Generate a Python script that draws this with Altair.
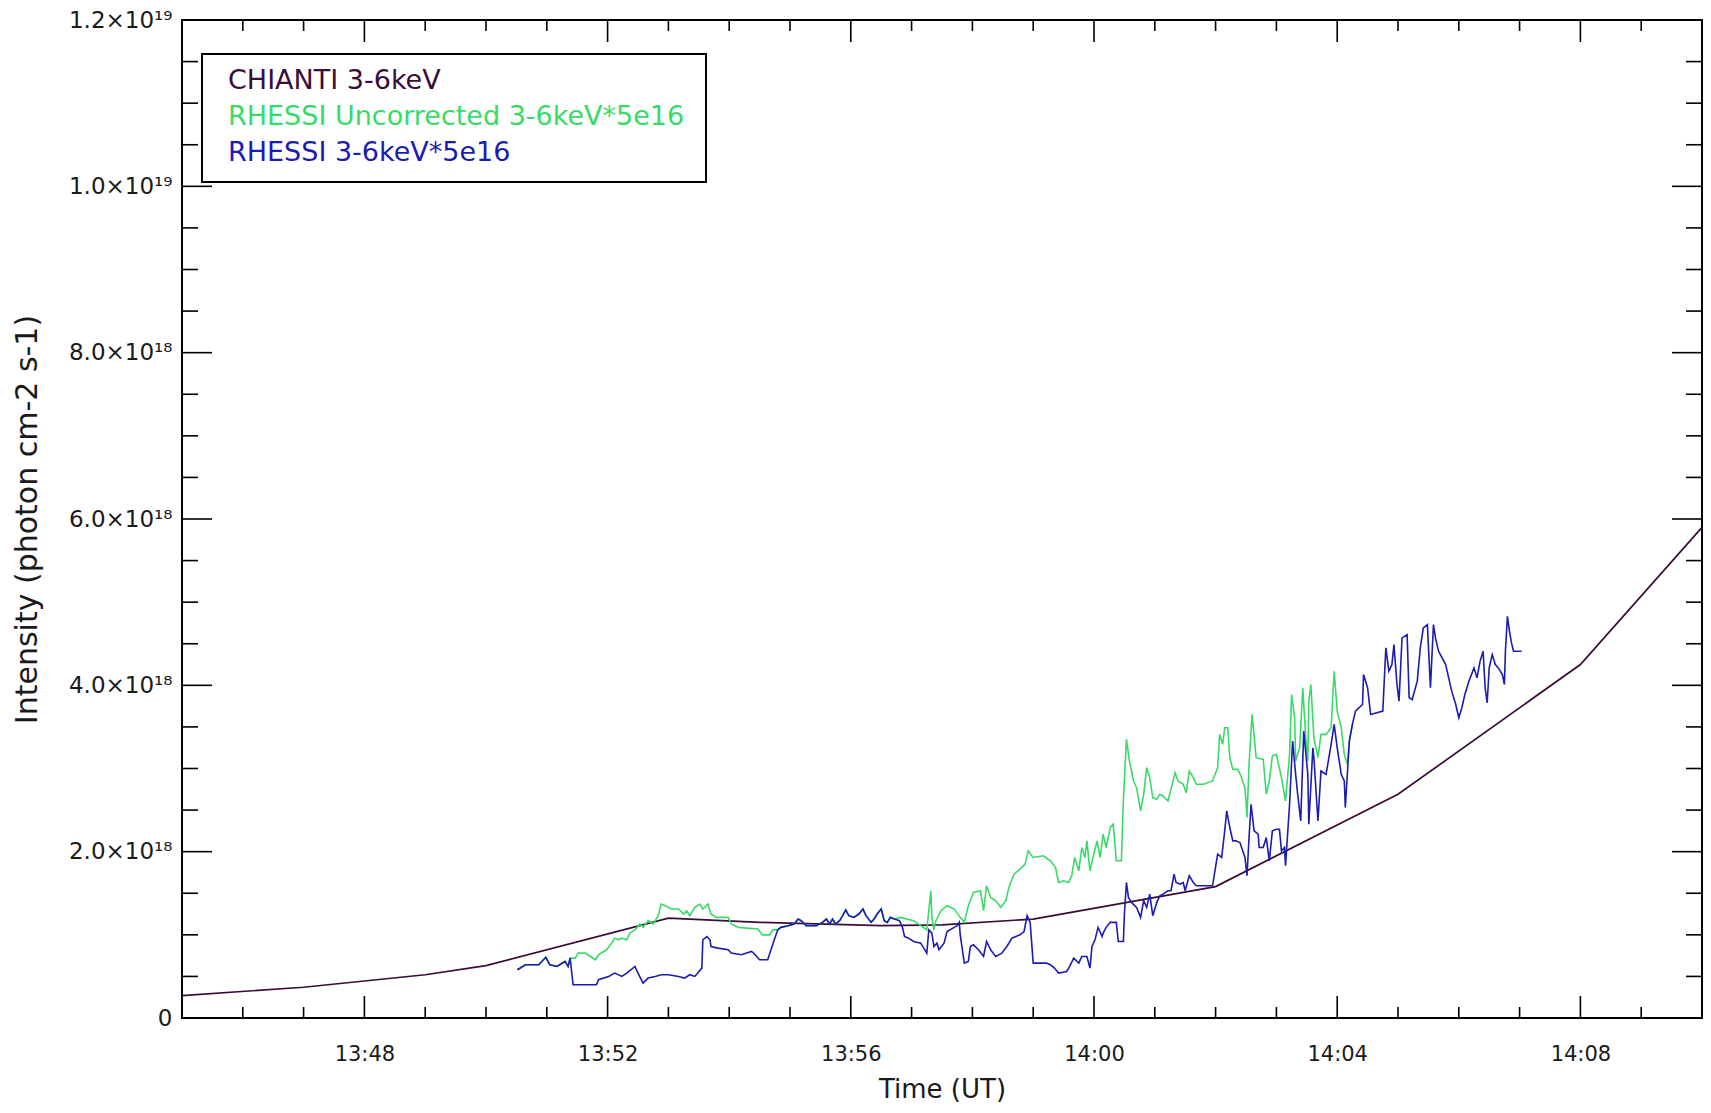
import altair as alt
import pandas as pd

DAY = "2000-01-01 "

# ---------------- data (intensity in units of 1e18 photon cm-2 s-1) ----------------
chianti_time = ["13:45:00", "13:47:00", "13:49:00", "13:50:00", "13:53:00", "13:54:30",
                "13:56:30", "13:57:30", "13:59:00", "14:02:00", "14:05:00", "14:08:00", "14:10:00"]
chianti_value = [0.27, 0.37, 0.52, 0.63, 1.20, 1.15, 1.11, 1.12, 1.19, 1.58, 2.69, 4.25, 5.90]

start_time = ["13:50:31", "13:50:39", "13:50:52", "13:50:59", "13:51:03", "13:51:10",
              "13:51:18", "13:51:21", "13:51:23"]
start_value = [0.58, 0.64, 0.64, 0.73, 0.64, 0.62, 0.68, 0.62, 0.72]

mid_time = ["13:54:48", "13:54:51", "13:54:58", "13:55:04", "13:55:08", "13:55:11", "13:55:16",
            "13:55:26", "13:55:32", "13:55:36", "13:55:39", "13:55:42", "13:55:45", "13:55:49",
            "13:55:52", "13:55:55", "13:55:58", "13:56:03", "13:56:08", "13:56:12", "13:56:15",
            "13:56:20", "13:56:23", "13:56:26", "13:56:30", "13:56:33", "13:56:36", "13:56:39",
            "13:56:43"]
mid_value = [1.06, 1.09, 1.11, 1.13, 1.19, 1.17, 1.11, 1.11, 1.15, 1.19, 1.13, 1.19, 1.13, 1.17,
             1.23, 1.30, 1.23, 1.21, 1.25, 1.31, 1.23, 1.15, 1.19, 1.25, 1.31, 1.17, 1.15, 1.21,
             1.19]

unc_time = start_time + [
    "13:51:28", "13:51:31", "13:51:38", "13:51:43", "13:51:48", "13:51:51", "13:51:59",
    "13:52:04", "13:52:07", "13:52:11", "13:52:14", "13:52:19", "13:52:22", "13:52:27",
    "13:52:32", "13:52:35", "13:52:40", "13:52:45", "13:52:50", "13:52:53", "13:52:57",
    "13:53:03", "13:53:10", "13:53:15", "13:53:18", "13:53:21", "13:53:26", "13:53:31",
    "13:53:34", "13:53:39", "13:53:42", "13:53:47", "13:53:59", "13:54:02", "13:54:09",
    "13:54:28", "13:54:33", "13:54:40", "13:54:43"] + mid_time + [
    "13:56:49", "13:57:02", "13:57:09", "13:57:15", "13:57:19", "13:57:20", "13:57:22",
    "13:57:24", "13:57:29", "13:57:35", "13:57:42", "13:57:48", "13:57:52", "13:57:56",
    "13:58:01", "13:58:08", "13:58:11", "13:58:14", "13:58:18", "13:58:23", "13:58:28",
    "13:58:33", "13:58:36", "13:58:41", "13:58:47", "13:58:52", "13:58:55", "13:59:00",
    "13:59:10", "13:59:17", "13:59:22", "13:59:25", "13:59:30", "13:59:35", "13:59:38",
    "13:59:41", "13:59:45", "13:59:48", "13:59:51", "13:59:53", "13:59:56", "13:59:59",
    "14:00:03", "14:00:06", "14:00:09", "14:00:12", "14:00:16", "14:00:19", "14:00:22",
    "14:00:27", "14:00:29", "14:00:32", "14:00:35", "14:00:39", "14:00:42", "14:00:46",
    "14:00:49", "14:00:52", "14:00:55", "14:00:58", "14:01:02", "14:01:05", "14:01:08",
    "14:01:13", "14:01:16", "14:01:20", "14:01:23", "14:01:28", "14:01:31", "14:01:34",
    "14:01:38", "14:01:41", "14:01:48", "14:01:57", "14:02:02", "14:02:04", "14:02:07",
    "14:02:09", "14:02:12", "14:02:14", "14:02:17", "14:02:22", "14:02:25", "14:02:29",
    "14:02:31", "14:02:33", "14:02:36", "14:02:40", "14:02:47", "14:02:50", "14:02:53",
    "14:02:56", "14:03:00", "14:03:05", "14:03:09", "14:03:13", "14:03:15", "14:03:18",
    "14:03:19", "14:03:23", "14:03:26", "14:03:29", "14:03:31", "14:03:32", "14:03:34",
    "14:03:37", "14:03:41", "14:03:44", "14:03:49", "14:03:54", "14:03:57", "14:04:00",
    "14:04:04", "14:04:07", "14:04:10", "14:04:12", "14:04:15"]
unc_value = start_value + [
    0.72, 0.78, 0.78, 0.74, 0.70, 0.76, 0.82,
    0.90, 0.96, 0.94, 0.96, 0.94, 1.02, 1.06,
    1.13, 1.09, 1.17, 1.13, 1.23, 1.37, 1.35,
    1.31, 1.31, 1.25, 1.29, 1.23, 1.33, 1.37,
    1.31, 1.37, 1.25, 1.21, 1.21, 1.13, 1.09,
    1.07, 1.00, 1.00, 1.06] + mid_value + [
    1.21, 1.17, 1.11, 1.06, 1.53, 1.21, 1.06,
    1.17, 1.29, 1.35, 1.31, 1.21, 1.15, 1.35,
    1.51, 1.53, 1.29, 1.59, 1.45, 1.41, 1.33,
    1.41, 1.57, 1.73, 1.79, 1.85, 2.01, 1.93,
    1.95, 1.89, 1.81, 1.63, 1.65, 1.63, 1.71,
    1.93, 1.77, 2.05, 1.93, 2.13, 1.77, 1.93,
    2.13, 1.93, 2.21, 2.05, 2.29, 2.33, 1.89,
    1.89, 2.61, 3.35, 3.09, 2.85, 2.77, 2.49,
    2.69, 3.01, 2.89, 2.65, 2.63, 2.69, 2.67,
    2.61, 2.75, 2.95, 2.85, 2.81, 2.71, 2.97,
    2.89, 2.81, 2.81, 2.85, 3.01, 3.41, 3.29,
    3.49, 3.49, 3.13, 2.99, 2.99, 2.91, 2.77,
    2.41, 3.05, 3.65, 3.13, 3.11, 2.69, 2.85,
    3.15, 3.17, 2.89, 2.61, 3.17, 3.89, 3.61,
    3.09, 3.25, 3.97, 3.37, 3.09, 3.81, 4.01,
    3.37, 3.13, 3.41, 3.41, 3.49, 4.17, 3.69,
    3.49, 3.17, 3.05, 3.33, 3.53]

cor_time = start_time + [
    "13:51:26", "13:51:49", "13:51:51", "13:52:01", "13:52:07", "13:52:14", "13:52:19",
    "13:52:27", "13:52:30", "13:52:35", "13:52:40", "13:52:47", "13:52:53", "13:53:00",
    "13:53:10", "13:53:16", "13:53:21", "13:53:26", "13:53:29", "13:53:33", "13:53:34",
    "13:53:38", "13:53:41", "13:53:42", "13:53:49", "13:53:59", "13:54:02", "13:54:12",
    "13:54:22", "13:54:25", "13:54:30", "13:54:38", "13:54:45"] + mid_time + [
    "13:56:48", "13:56:51", "13:56:53", "13:56:57", "13:57:02", "13:57:09", "13:57:12",
    "13:57:15", "13:57:17", "13:57:20", "13:57:22", "13:57:25", "13:57:27", "13:57:32",
    "13:57:35", "13:57:42", "13:57:45", "13:57:47", "13:57:48", "13:57:52", "13:57:56",
    "13:57:58", "13:58:01", "13:58:06", "13:58:11", "13:58:14", "13:58:18", "13:58:23",
    "13:58:29", "13:58:34", "13:58:39", "13:58:47", "13:58:51", "13:58:54", "13:58:57",
    "13:59:00", "13:59:13", "13:59:17", "13:59:21", "13:59:25", "13:59:33", "13:59:36",
    "13:59:40", "13:59:45", "13:59:48", "13:59:53", "13:59:56", "13:59:58", "14:00:01",
    "14:00:04", "14:00:08", "14:00:09", "14:00:12", "14:00:16", "14:00:22", "14:00:24",
    "14:00:29", "14:00:30", "14:00:32", "14:00:34", "14:00:37", "14:00:42", "14:00:46",
    "14:00:49", "14:00:52", "14:00:55", "14:00:58", "14:01:02", "14:01:05", "14:01:08",
    "14:01:13", "14:01:16", "14:01:19", "14:01:21", "14:01:25", "14:01:28", "14:01:30",
    "14:01:34", "14:01:38", "14:01:41", "14:01:48", "14:01:57", "14:02:02", "14:02:06",
    "14:02:09", "14:02:11", "14:02:14", "14:02:17", "14:02:20", "14:02:24", "14:02:29",
    "14:02:31", "14:02:33", "14:02:35", "14:02:38", "14:02:42", "14:02:43", "14:02:47",
    "14:02:50", "14:02:53", "14:02:56", "14:03:00", "14:03:03", "14:03:05", "14:03:08",
    "14:03:09", "14:03:13", "14:03:16", "14:03:19", "14:03:21", "14:03:24", "14:03:27",
    "14:03:31", "14:03:32", "14:03:36", "14:03:37", "14:03:41", "14:03:44", "14:03:49",
    "14:03:54", "14:03:57", "14:04:00", "14:04:04", "14:04:07", "14:04:08", "14:04:12",
    "14:04:15", "14:04:18", "14:04:25", "14:04:26", "14:04:30", "14:04:33", "14:04:45",
    "14:04:48", "14:04:51", "14:04:54", "14:04:56", "14:04:59", "14:05:01", "14:05:04",
    "14:05:09", "14:05:11", "14:05:14", "14:05:19", "14:05:22", "14:05:25", "14:05:29",
    "14:05:32", "14:05:35", "14:05:37", "14:05:40", "14:05:47", "14:05:50", "14:05:53",
    "14:05:57", "14:06:00", "14:06:03", "14:06:06", "14:06:10", "14:06:15", "14:06:18",
    "14:06:21", "14:06:24", "14:06:26", "14:06:28", "14:06:30", "14:06:33", "14:06:36",
    "14:06:39", "14:06:43", "14:06:45", "14:06:46", "14:06:48", "14:06:50", "14:06:52",
    "14:06:54", "14:07:02"]
cor_value = start_value + [
    0.40, 0.40, 0.46, 0.50, 0.54, 0.50, 0.54,
    0.62, 0.54, 0.42, 0.48, 0.50, 0.52, 0.52,
    0.50, 0.48, 0.52, 0.50, 0.54, 0.60, 0.94,
    0.98, 0.94, 0.86, 0.84, 0.82, 0.78, 0.76,
    0.80, 0.77, 0.70, 0.70, 0.96] + mid_value + [
    1.17, 1.09, 0.98, 0.96, 0.92, 0.90, 0.84,
    0.78, 1.06, 1.02, 0.86, 0.90, 0.82, 0.90,
    1.04, 1.09, 1.11, 1.15, 1.00, 0.66, 0.68,
    0.86, 0.88, 0.82, 0.74, 0.92, 0.82, 0.74,
    0.78, 0.86, 0.96, 1.00, 1.04, 1.23, 1.15,
    0.66, 0.66, 0.64, 0.60, 0.54, 0.56, 0.62,
    0.72, 0.66, 0.74, 0.74, 0.60, 0.86, 0.94,
    1.09, 0.98, 1.02, 1.09, 1.15, 1.15, 0.92,
    0.92, 1.25, 1.63, 1.45, 1.39, 1.33, 1.21,
    1.41, 1.33, 1.49, 1.23, 1.39, 1.47, 1.49,
    1.53, 1.53, 1.73, 1.63, 1.61, 1.63, 1.53,
    1.71, 1.63, 1.59, 1.59, 1.59, 1.97, 1.93,
    2.25, 2.49, 2.29, 2.13, 2.13, 2.11, 1.93,
    1.71, 2.17, 2.57, 2.25, 2.21, 2.05, 2.05,
    2.17, 1.89, 2.25, 2.27, 2.27, 2.01, 2.05,
    1.83, 2.57, 3.33, 2.93, 2.69, 2.37, 3.45,
    2.93, 2.33, 3.25, 3.13, 2.37, 2.97, 2.93,
    3.29, 3.53, 3.25, 2.93, 2.85, 2.53, 3.33,
    3.53, 3.69, 3.77, 4.13, 3.97, 3.65, 3.69,
    4.45, 4.17, 4.25, 4.49, 4.01, 3.81, 4.57,
    4.61, 3.85, 3.83, 4.05, 4.45, 4.69, 4.73,
    3.97, 4.73, 4.57, 4.41, 4.25, 4.09, 3.93,
    3.77, 3.61, 3.73, 3.89, 4.05, 4.21, 4.09,
    4.29, 4.41, 3.97, 3.79, 4.21, 4.37, 4.25,
    4.21, 4.13, 4.01, 4.41, 4.83, 4.65, 4.51,
    4.41, 4.41]

series_names = ["CHIANTI 3-6keV", "RHESSI Uncorrected 3-6keV*5e16", "RHESSI 3-6keV*5e16"]
series_colors = ["#3a0c38", "#3ada68", "#1c1cb0"]

x_label_times = ["13:48", "13:52", "13:56", "14:00", "14:04", "14:08"]
y_label_values = [0, 2, 4, 6, 8, 10, 12]

# ---------------- layout constants ----------------
W, H = 1520, 998
FONT = "DejaVu Sans"
INK = "#1a1a1a"


def dt(hm):
    h, m = hm.split(":")
    return alt.DateTime(year=2000, month=1, date=1, hours=int(h), minutes=int(m))


def frame(times, values):
    return pd.DataFrame({"t": pd.to_datetime([DAY + s for s in times]), "v": values})


x_scale = alt.Scale(domain=[dt("13:45"), dt("14:10")])
y_scale = alt.Scale(domain=[0, 12], nice=False, zero=False)

x_axis = alt.Axis(values=[dt(s) for s in x_label_times], format="%H:%M", ticks=False,
                  domain=False, grid=False, labelFont=FONT, labelFontSize=21,
                  labelColor=INK, labelPadding=25, labelFlush=False,
                  title="Time (UT)", titleFont=FONT, titleFontSize=26,
                  titleFontWeight="normal", titleColor=INK, titleY=71,
                  titleBaseline="middle")
y_axis = alt.Axis(values=y_label_values, ticks=False, domain=False, grid=False,
                  labelExpr=("datum.value == 0 ? '0' : (datum.value >= 10 ? "
                             "format(datum.value / 10, '.1f') + '×10¹⁹' : "
                             "format(datum.value, '.1f') + '×10¹⁸')"),
                  labelFont=FONT, labelFontSize=23, labelColor=INK, labelPadding=10,
                  title="Intensity (photon cm-2 s-1)", titleFont=FONT, titleFontSize=30,
                  titleFontWeight="normal", titleColor=INK, titleX=-155, titleY=H / 2,
                  titleBaseline="middle")

X = alt.X("t:T", scale=x_scale, axis=x_axis)
Y = alt.Y("v:Q", scale=y_scale, axis=y_axis)

chianti = alt.Chart(frame(chianti_time, chianti_value)).mark_line(
    color=series_colors[0], strokeWidth=1.7).encode(x=X, y=Y)
uncorr = alt.Chart(frame(unc_time, unc_value)).mark_line(
    color=series_colors[1], strokeWidth=1.6).encode(x=X, y=Y)
corr = alt.Chart(frame(cor_time, cor_value)).mark_line(
    color=series_colors[2], strokeWidth=1.6).encode(x=X, y=Y)

# ---------------- inward ticks on all four sides ----------------
minutes = pd.date_range(DAY + "13:46", DAY + "14:09", freq="1min")
xt = pd.DataFrame({"t": minutes, "major": [m.minute % 4 == 0 for m in minutes]})
xt_major = xt[xt.major][["t"]]
xt_minor = xt[~xt.major][["t"]]
yvals = [i * 0.5 for i in range(1, 24)]
yt = pd.DataFrame({"v": yvals, "major": [v % 2 == 0 for v in yvals]})
yt_major = yt[yt.major][["v"]]
yt_minor = yt[~yt.major][["v"]]

tick_style = dict(color="black", strokeWidth=1.6)
ticks = []
for d, L in [(xt_major, 22), (xt_minor, 11)]:
    ticks.append(alt.Chart(d).mark_rule(**tick_style).encode(
        x=X, y=alt.value(H), y2=alt.value(H - L)))
    ticks.append(alt.Chart(d).mark_rule(**tick_style).encode(
        x=X, y=alt.value(0), y2=alt.value(L)))
for d, L in [(yt_major, 30), (yt_minor, 16)]:
    ticks.append(alt.Chart(d).mark_rule(**tick_style).encode(
        y=Y, x=alt.value(0), x2=alt.value(L)))
    ticks.append(alt.Chart(d).mark_rule(**tick_style).encode(
        y=Y, x=alt.value(W), x2=alt.value(W - L)))

# ---------------- legend box ----------------
one = pd.DataFrame({"k": [0]})
legend_box = alt.Chart(one).mark_rect(fill="white", stroke="black", strokeWidth=2).encode(
    x=alt.value(20), x2=alt.value(524), y=alt.value(34), y2=alt.value(162))
legend_texts = []
for name, col, yy in zip(series_names, series_colors, [61, 97, 133]):
    legend_texts.append(alt.Chart(one).mark_text(
        align="left", baseline="middle", font=FONT, fontSize=27, color=col).encode(
        x=alt.value(46), y=alt.value(yy), text=alt.value(name)))

chart = alt.layer(*ticks, chianti, uncorr, corr, legend_box, *legend_texts).properties(
    width=W, height=H,
    autosize=alt.AutoSizeParams(type="none"),
    padding={"left": 174, "top": 12, "right": 1, "bottom": 84},
    background="white",
).configure_view(stroke="black", strokeWidth=2)

chart.save("out.html", embed_options={"renderer": "svg", "actions": False})
